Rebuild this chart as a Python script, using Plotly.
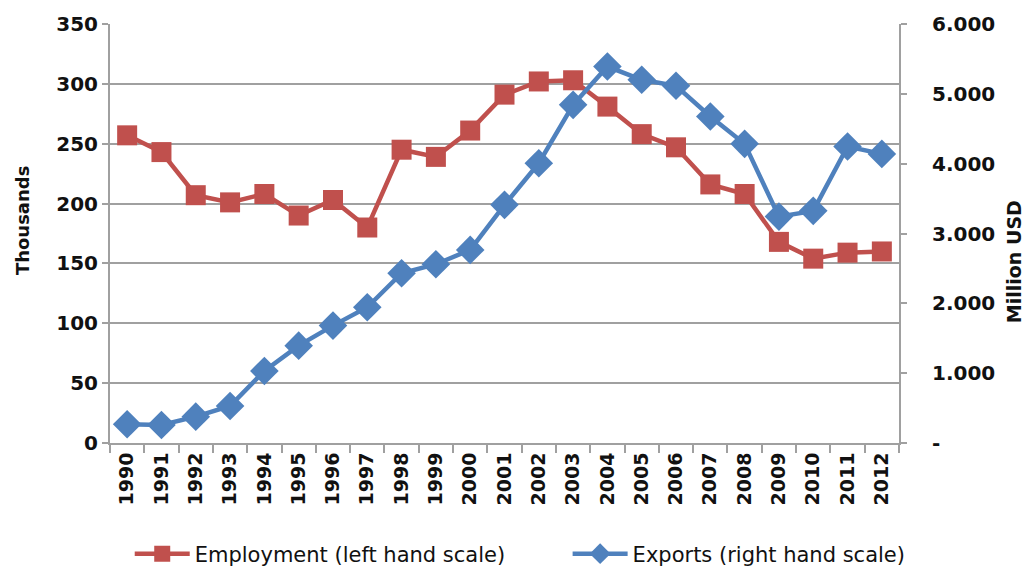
import plotly.graph_objects as go

years = [str(y) for y in range(1990, 2013)]
employment = [257, 243, 207, 201, 208, 190, 203, 180, 245, 239, 261, 291, 302, 303, 281, 258, 247, 216, 208, 168, 154, 159, 160]
exports = [268, 258, 377, 530, 1031, 1394, 1681, 1944, 2431, 2560, 2765, 3410, 4007, 4842, 5391, 5201, 5115, 4675, 4284, 3242, 3324, 4245, 4140]

left_ticks = list(range(0, 351, 50))
right_ticks = list(range(0, 6001, 1000))
right_labels = ["-", "1.000", "2.000", "3.000", "4.000", "5.000", "6.000"]

font = "DejaVu Sans"
grey = "#a0a0a0"

fig = go.Figure()
fig.add_trace(go.Scatter(
    x=years, y=employment, name="Employment (left hand scale)",
    mode="lines+markers",
    line=dict(color="#C0504D", width=4.5),
    marker=dict(symbol="square", size=20, color="#C0504D"),
    yaxis="y", legend="legend",
))
fig.add_trace(go.Scatter(
    x=years, y=exports, name="Exports (right hand scale)",
    mode="lines+markers",
    line=dict(color="#4F81BD", width=4.5),
    marker=dict(symbol="diamond", size=22, color="#4F81BD"),
    yaxis="y2", legend="legend2",
))

legend_common = dict(orientation="h", yanchor="middle", y=-0.265, xanchor="left",
                     font=dict(family=font, size=21, weight="normal", color="#111111"),
                     itemwidth=55, bgcolor="rgba(0,0,0,0)")

fig.update_layout(
    width=1019, height=562,
    margin=dict(l=102, r=128, t=16, b=127, autoexpand=False),
    plot_bgcolor="white", paper_bgcolor="white",
    font=dict(family=font, size=17, color="#111111", weight="bold"),
    showlegend=True,
    legend=dict(x=0.025, **legend_common),
    legend2=dict(x=0.58, **legend_common),
    xaxis=dict(
        type="category", range=[-0.5, 22.5], tickangle=-90, tickson="boundaries",
        ticks="outside", ticklen=8, tickcolor=grey, tickwidth=2,
        showline=True, linecolor=grey, linewidth=2, showgrid=False,
        tickfont=dict(size=19, weight="bold"), automargin=False,
    ),
    yaxis=dict(
        range=[0, 350], tickvals=left_ticks, showgrid=True, gridcolor=grey, gridwidth=1.5,
        showline=True, linecolor=grey, linewidth=2, ticks="outside", ticklen=6, tickcolor=grey, tickwidth=2,
        zeroline=False, automargin=False, ticklabelstandoff=0,
        tickfont=dict(size=20, weight="bold"),
    ),
    yaxis2=dict(
        range=[0, 6000], tickvals=right_ticks, ticktext=right_labels,
        overlaying="y", side="right", showgrid=False,
        showline=True, linecolor=grey, linewidth=2, ticks="outside", ticklen=6, tickcolor=grey, tickwidth=2,
        zeroline=False, automargin=False, ticklabelstandoff=21,
        tickfont=dict(size=20, weight="bold"),
    ),
    annotations=[
        dict(text="Thousands", textangle=-90, xref="paper", yref="paper",
             x=-0.1115, y=0.532, showarrow=False, xanchor="center", yanchor="middle",
             font=dict(size=18, weight="bold")),
        dict(text="Million USD", textangle=-90, xref="paper", yref="paper",
             x=1.146, y=0.432, showarrow=False, xanchor="center", yanchor="middle",
             font=dict(size=19, weight="bold")),
    ],
)

fig.write_html("out.html")
